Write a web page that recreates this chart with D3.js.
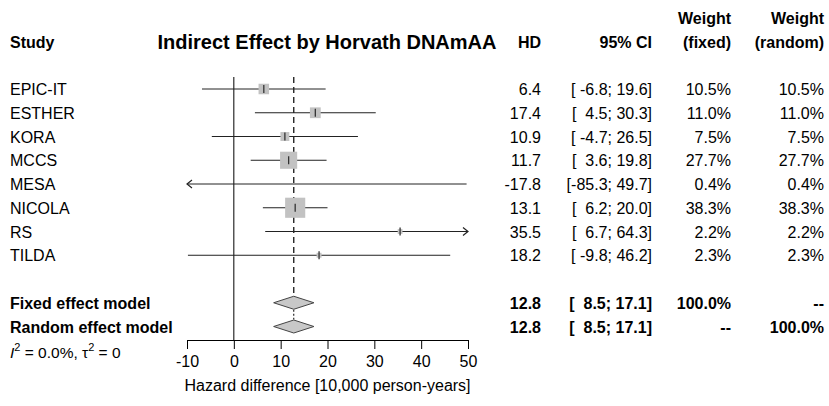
<!DOCTYPE html>
<html>
<head>
<meta charset="utf-8">
<script src="https://cdn.jsdelivr.net/npm/d3@7"></script>
<style>
  body { margin: 0; background: #fff; }
  text { font-family: "Liberation Sans", Arial, sans-serif; fill: #000; white-space: pre; }
</style>
</head>
<body>
<div id="forest"></div>
<script>
// study level data (hazard difference per 10,000 person-years)
var studies = ["EPIC-IT", "ESTHER", "KORA", "MCCS", "MESA", "NICOLA", "RS", "TILDA"];
var hd      = [6.4, 17.4, 10.9, 11.7, -17.8, 13.1, 35.5, 18.2];
var lower   = [-6.8, 4.5, -4.7, 3.6, -85.3, 6.2, 6.7, -9.8];
var upper   = [19.6, 30.3, 26.5, 19.8, 49.7, 20.0, 64.3, 46.2];
var wFixed  = [10.5, 11.0, 7.5, 27.7, 0.4, 38.3, 2.2, 2.3];
var wRandom = [10.5, 11.0, 7.5, 27.7, 0.4, 38.3, 2.2, 2.3];

// pooled estimates
var models = ["Fixed effect model", "Random effect model"];
var poolHd = [12.8, 12.8];
var poolLo = [8.5, 8.5];
var poolHi = [17.1, 17.1];
var poolWf = ["100.0%", "--"];
var poolWr = ["--", "100.0%"];

var xTicks = [-10, 0, 10, 20, 30, 40, 50];

var width = 829, height = 406;

var svg = d3.select("#forest")
  .append("svg")
    .attr("width", width)
    .attr("height", height);

var x = d3.scaleLinear()
  .domain([-10, 50])
  .range([187, 468]);

// row positions: studies 0..7, a gap, then the two models
var row = d3.scaleLinear()
  .domain([0, 1])
  .range([89, 112.75]);

var axisY = 340;

function fmt(v) { return v.toFixed(1); }
function pad(s, n) { while (s.length < n) s = " " + s; return s; }
function ci(lo, hi) { return "[" + pad(fmt(lo), 5) + "; " + pad(fmt(hi), 4) + "]"; }

// columns (right aligned)
var colHd = 541, colCi = 652, colWf = 731, colWr = 824;

// headers
function header(txt, xx, yy, anchor, size) {
  svg.append("text")
    .attr("x", xx).attr("y", yy)
    .attr("text-anchor", anchor || "end")
    .style("font-weight", "bold")
    .style("font-size", (size || 16) + "px")
    .text(txt);
}
header("Study", 10, 48, "start");
header("Indirect Effect by Horvath DNAmAA", 327, 49, "middle", 20);
header("HD", colHd, 48);
header("95% CI", colCi, 48);
header("Weight", colWf, 24);
header("(fixed)", colWf, 48);
header("Weight", colWr, 24);
header("(random)", colWr, 48);

// vertical reference line at zero
svg.append("line")
  .attr("x1", x(0)).attr("x2", x(0))
  .attr("y1", row(0) - 12).attr("y2", axisY)
  .attr("stroke", "#000").attr("stroke-width", 1);

// dashed line at pooled estimate
svg.append("line")
  .attr("x1", x(poolHd[0])).attr("x2", x(poolHd[0]))
  .attr("y1", row(0) - 12).attr("y2", row(9) - 7)
  .attr("stroke", "#000").attr("stroke-width", 1.2)
  .attr("stroke-dasharray", "6,4");

// dotted between the two diamonds
svg.append("line")
  .attr("x1", x(poolHd[1])).attr("x2", x(poolHd[1]))
  .attr("y1", row(9) + 7).attr("y2", row(10) - 7)
  .attr("stroke", "#000").attr("stroke-width", 1)
  .attr("stroke-dasharray", "2,2");

// study rows
var g = svg.append("g");
studies.forEach(function(s, i) {
  var yy = row(i);
  var lo = Math.max(lower[i], -10), hi = Math.min(upper[i], 50);

  // CI line
  g.append("line")
    .attr("x1", x(lo)).attr("x2", x(hi))
    .attr("y1", yy).attr("y2", yy)
    .attr("stroke", "#222").attr("stroke-width", 1);

  // arrows when CI is truncated
  if (lower[i] < -10) {
    g.append("path")
      .attr("d", "M" + (x(-10) + 5) + "," + (yy - 4) + "L" + x(-10) + "," + yy + "L" + (x(-10) + 5) + "," + (yy + 4))
      .attr("fill", "none").attr("stroke", "#222").attr("stroke-width", 1.2);
  }
  if (upper[i] > 50) {
    g.append("path")
      .attr("d", "M" + (x(50) - 5) + "," + (yy - 4) + "L" + x(50) + "," + yy + "L" + (x(50) - 5) + "," + (yy + 4))
      .attr("fill", "none").attr("stroke", "#222").attr("stroke-width", 1.2);
  }

  // weight square and estimate tick, only inside the plotted range
  if (hd[i] >= -10 && hd[i] <= 50) {
    var sz = 3.25 * Math.sqrt(wFixed[i]);
    g.append("rect")
      .attr("x", x(hd[i]) - sz / 2).attr("y", yy - sz / 2)
      .attr("width", sz).attr("height", sz)
      .attr("fill", "#c2c2c2");

    g.append("line")
      .attr("x1", x(hd[i])).attr("x2", x(hd[i]))
      .attr("y1", yy - 4).attr("y2", yy + 4)
      .attr("stroke", "#333").attr("stroke-width", 1.3);
  }

  // text columns
  g.append("text").attr("x", 10).attr("y", yy + 6).style("font-size", "16px").text(s);
  g.append("text").attr("x", colHd).attr("y", yy + 6).attr("text-anchor", "end").style("font-size", "16px").text(fmt(hd[i]));
  g.append("text").attr("x", colCi).attr("y", yy + 6).attr("text-anchor", "end").style("font-size", "16px").text(ci(lower[i], upper[i]));
  g.append("text").attr("x", colWf).attr("y", yy + 6).attr("text-anchor", "end").style("font-size", "16px").text(fmt(wFixed[i]) + "%");
  g.append("text").attr("x", colWr).attr("y", yy + 6).attr("text-anchor", "end").style("font-size", "16px").text(fmt(wRandom[i]) + "%");
});

// pooled rows
models.forEach(function(m, j) {
  var yy = row(9 + j);
  var pts = [[x(poolLo[j]), yy], [x(poolHd[j]), yy - 6.5], [x(poolHi[j]), yy], [x(poolHd[j]), yy + 6.5]];
  svg.append("path")
    .attr("d", d3.line()(pts) + "Z")
    .attr("fill", "#c8c8c8").attr("stroke", "#444").attr("stroke-width", 1);

  function bold(txt, xx, anchor) {
    svg.append("text").attr("x", xx).attr("y", yy + 6)
      .attr("text-anchor", anchor)
      .style("font-size", "16px").style("font-weight", "bold")
      .text(txt);
  }
  bold(m, 10, "start");
  bold(fmt(poolHd[j]), colHd, "end");
  bold(ci(poolLo[j], poolHi[j]), colCi, "end");
  bold(poolWf[j], colWf, "end");
  bold(poolWr[j], colWr, "end");
});

// heterogeneity
var het = svg.append("text").attr("x", 10).attr("y", 358).style("font-size", "15.5px");
het.append("tspan").style("font-style", "italic").text("I");
het.append("tspan").attr("dy", -7).style("font-size", "11px").text("2");
het.append("tspan").attr("dy", 7).text(" = 0.0%, \u03c4");
het.append("tspan").attr("dy", -7).style("font-size", "11px").text("2");
het.append("tspan").attr("dy", 7).text(" = 0");

// x axis
var axis = svg.append("g")
  .attr("transform", "translate(0," + axisY + ")")
  .call(d3.axisBottom(x).tickValues(xTicks).tickSize(9).tickSizeOuter(0).tickPadding(7)
    .tickFormat(function(d) { return String(d); }));
axis.select(".domain").attr("stroke", "#000");
axis.selectAll(".tick line").attr("stroke", "#000");
axis.selectAll(".tick text")
  .style("font-family", "'Liberation Sans', Arial, sans-serif")
  .style("font-size", "16px")
  .attr("fill", "#000");

svg.append("text")
  .attr("x", x(20)).attr("y", 391)
  .attr("text-anchor", "middle")
  .style("font-size", "16px")
  .text("Hazard difference [10,000 person-years]");
</script>
</body>
</html>
